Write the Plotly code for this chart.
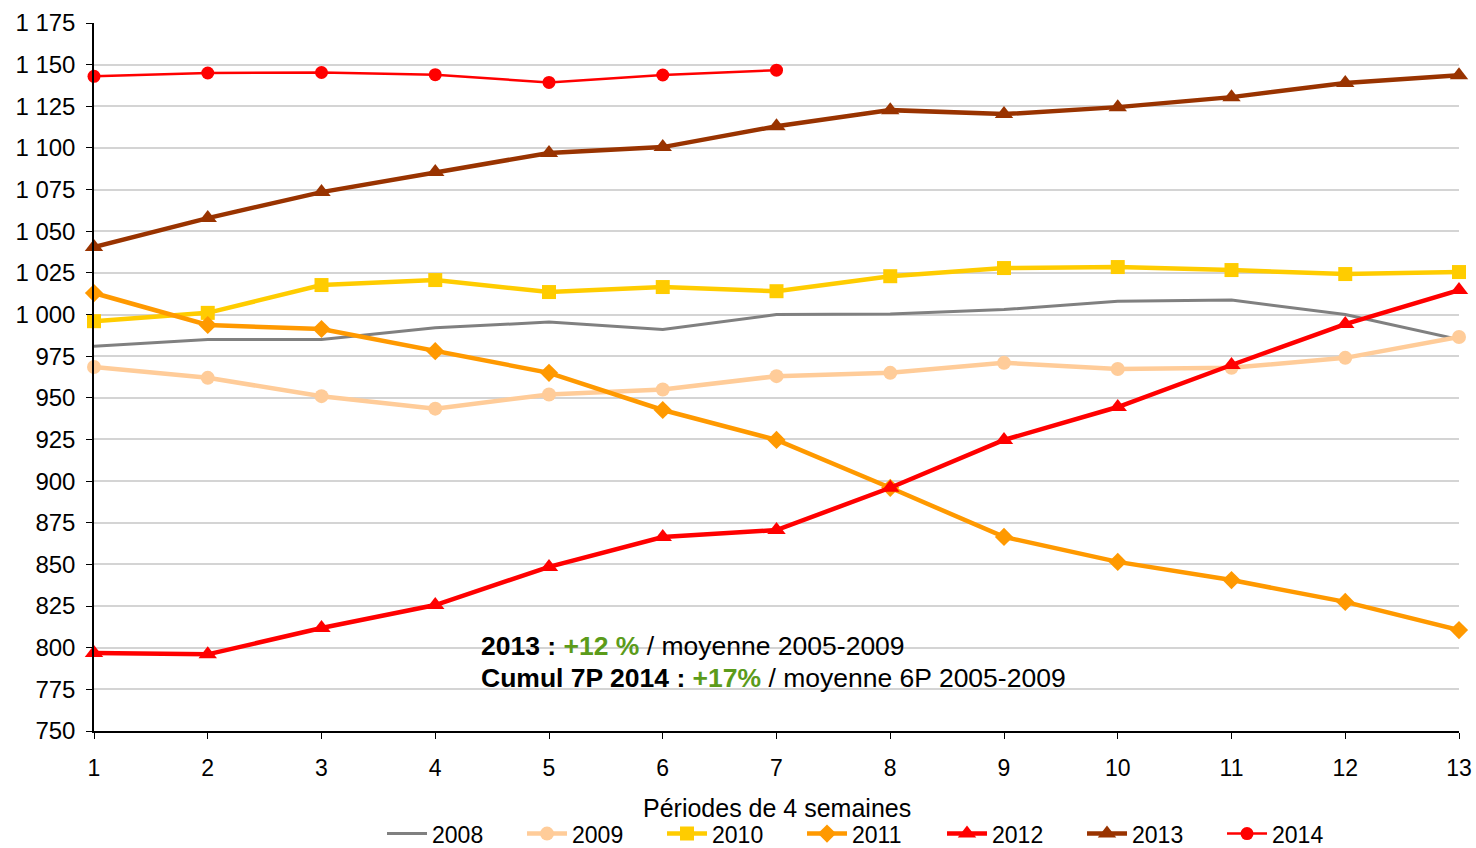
import plotly.graph_objects as go

periods = list(range(1, 14))

v2008 = [981, 985, 985, 992, 995.5, 991, 1000, 1000.3, 1003, 1008, 1008.7, 1000, 985]
v2009 = [968.5, 962, 951, 943.5, 952, 955, 963, 965, 971, 967.3, 968, 974, 986.5]
v2010 = [996, 1001, 1017.7, 1020.7, 1013.5, 1016.5, 1014, 1023, 1027.9, 1028.5, 1026.7, 1024.3, 1025.5]
v2011 = [1012.9, 993.7, 991.3, 978, 965, 942.7, 924.7, 896, 866.5, 851.5, 840.6, 827.5, 810.6]
v2012 = [796.8, 796, 811.8, 825.6, 848.5, 866.4, 870.6, 896, 924.7, 944.5, 969.7, 994.3, 1014.7]
v2013 = [1040.5, 1057.9, 1073.5, 1085.5, 1097, 1100.5, 1113, 1122.7, 1120.3, 1124.5, 1130.5, 1139, 1143.7]
v2014 = [1143, 1145, 1145.3, 1144, 1139.3, 1143.8, 1146.7]

y_ticks = list(range(750, 1176, 25))

FONT = "Liberation Sans, Arial, sans-serif"
GREEN = "#5B9B1A"

series = [
    ("2008", v2008, "#808080", 3, None, 0),
    ("2009", v2009, "#FFCC99", 4.5, "circle", 14),
    ("2010", v2010, "#FFCC00", 4.5, "square", 14),
    ("2011", v2011, "#FF9900", 4.5, "diamond", 14),
    ("2012", v2012, "#FF0000", 4.5, "triangle-up", 16),
    ("2013", v2013, "#993300", 4.5, "triangle-up", 16),
    ("2014", v2014, "#FF0000", 2.5, "circle", 13),
]

fig = go.Figure()
for name, vals, color, width, symbol, size in series:
    fig.add_trace(go.Scatter(
        x=periods[:len(vals)], y=vals, name=name,
        mode="lines" if symbol is None else "lines+markers",
        line=dict(color=color, width=width),
        marker=dict(symbol=symbol or "circle", size=size, color=color),
        cliponaxis=False,
    ))

notes = [
    (0.120, f"<b>2013 : </b><b><span style='color:{GREEN}'>+12 %</span></b> / moyenne 2005-2009"),
    (0.075, f"<b>Cumul 7P 2014 : </b><b><span style='color:{GREEN}'>+17%</span></b> / moyenne 6P 2005-2009"),
]
for ypos, txt in notes:
    fig.add_annotation(
        x=0.282, y=ypos, xref="paper", yref="paper", xanchor="left", yanchor="middle",
        align="left", showarrow=False, text=txt,
        font=dict(family=FONT, size=26.5, color="black"),
    )

# x axis title placed by hand
fig.add_annotation(
    x=0.5, y=-0.109, xref="paper", yref="paper", xanchor="center", yanchor="middle",
    showarrow=False, text="Périodes de 4 semaines",
    font=dict(family=FONT, size=25, color="black"),
)

fig.update_xaxes(
    range=[1, 13], tickvals=periods, ticks="outside", ticklen=6, tickcolor="black",
    showline=True, linecolor="black", linewidth=1.5, showgrid=False, zeroline=False,
    tickfont=dict(size=23), ticklabelstandoff=10, automargin=False,
)
fig.update_yaxes(
    range=[750, 1175], tickvals=y_ticks, tickformat=",d", separatethousands=True,
    ticks="outside", ticklen=6, tickcolor="black",
    showline=True, linecolor="black", linewidth=1.5,
    showgrid=True, gridcolor="#D4D4D4", gridwidth=1.5, zeroline=False,
    tickfont=dict(size=24), ticklabelstandoff=6, automargin=False,
)

fig.update_layout(
    width=1476, height=848,
    separators=", ",
    font=dict(family=FONT, color="black"),
    plot_bgcolor="white", paper_bgcolor="white",
    margin=dict(l=94, r=17, t=23, b=117, autoexpand=False),
    legend=dict(orientation="h", x=0.211, xanchor="left", y=-0.145, yanchor="middle",
                font=dict(size=23), entrywidth=85, entrywidthmode="pixels",
                itemwidth=40, tracegroupgap=0),
    showlegend=True,
)

# drop the default 8px page margin so the figure fills the window exactly
fig.write_html("out.html", config={"displayModeBar": False},
               post_script="document.body.style.margin='0';")
